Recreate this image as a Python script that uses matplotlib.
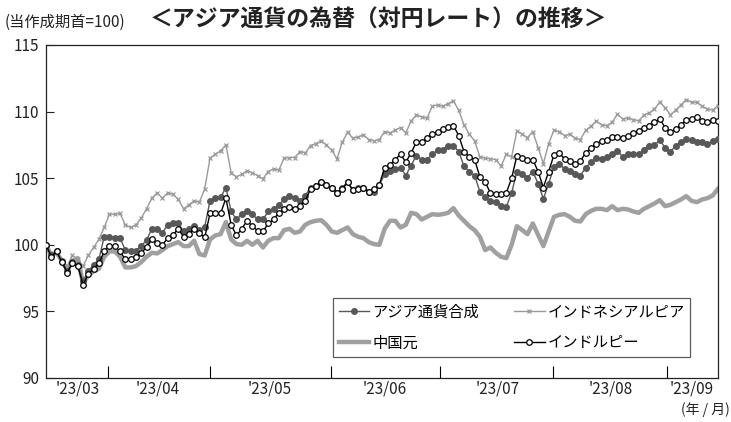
import matplotlib
matplotlib.use("Agg")
from matplotlib import pyplot as plt

plt.rcParams["font.family"] = ["Noto Sans CJK JP", "DejaVu Sans"]

# trading-day index, values are indexed to 100 at the start
composite = [100.0, 99.2, 99.5, 98.8, 98.0, 98.7, 98.5, 97.3, 98.0, 98.5,
             98.9, 100.6, 100.6, 100.5, 100.5, 99.6, 99.55, 99.55, 99.9, 100.35,
             101.2, 101.2, 100.9, 101.5, 101.65, 101.6, 101.0, 101.2, 101.4, 101.1,
             101.35, 103.3, 103.5, 103.55, 104.3, 102.5, 101.9, 102.3, 102.55, 102.3,
             101.9, 101.9, 102.5, 102.7, 103.0, 103.4, 103.7, 103.5, 103.3, 103.7,
             104.3, 104.4, 104.75, 104.5, 104.3, 103.9, 104.3, 104.7, 104.1, 104.3,
             104.3, 104.0, 104.0, 104.5, 105.3, 105.55, 105.7, 105.8, 105.2, 105.95,
             106.7, 106.4, 106.4, 106.8, 107.1, 107.15, 107.4, 107.45, 107.0, 105.9,
             105.5, 105.2, 104.0, 103.55, 103.3, 103.2, 102.9, 102.85, 103.9, 105.5,
             105.3, 105.05, 105.5, 104.6, 103.45, 104.6, 105.85, 106.05, 105.7, 105.55,
             105.3, 105.2, 105.8, 106.2, 106.5, 106.45, 106.6, 106.8, 107.05, 106.6,
             106.8, 106.85, 106.8, 107.1, 107.4, 107.5, 107.85, 107.3, 107.0, 107.4,
             107.75, 107.95, 107.85, 107.75, 107.7, 107.55, 107.8, 107.95]

idr = [100.0, 99.4, 99.5, 98.8, 98.4, 99.2, 98.9, 98.4, 99.2, 99.8,
       100.4, 101.3, 102.3, 102.3, 102.35, 101.5, 101.3, 101.5, 102.0, 102.7,
       103.5, 103.9, 103.5, 103.9, 103.8, 103.4, 102.7, 103.0, 103.3, 103.2,
       104.2, 106.5, 106.8, 107.05, 107.5, 105.4, 105.1, 105.3, 105.55, 105.4,
       105.2, 104.95, 105.5, 105.7, 105.6, 106.5, 106.55, 106.55, 107.0, 106.9,
       107.45, 107.6, 107.8, 107.5, 107.1, 106.45, 107.7, 108.45, 108.0, 108.1,
       108.25, 107.9, 107.8, 107.9, 108.5, 108.4, 108.6, 108.8, 108.4, 109.3,
       109.75, 109.6, 109.5, 110.4, 110.5, 110.4, 110.6, 110.8, 110.1, 109.0,
       108.3, 107.8, 106.6, 106.5, 106.45, 106.4, 105.9, 106.8, 106.6, 108.55,
       108.3, 108.05, 108.5, 107.3, 106.1, 107.6, 108.6, 108.5, 108.2, 108.3,
       108.0, 107.9, 108.6, 108.9, 109.3, 109.0, 108.95, 109.2, 109.8, 109.45,
       109.5, 109.4, 109.3, 109.75, 109.9, 110.2, 110.7, 110.3, 109.75, 110.1,
       110.5, 110.9, 110.7, 110.7, 110.4, 110.2, 110.1, 110.45]

cny = [100.0, 99.2, 99.4, 98.8, 98.1, 98.8, 99.0, 97.1, 97.7, 98.0,
       98.2, 99.1, 99.5, 99.5, 99.1, 98.3, 98.3, 98.4, 98.7, 99.1,
       99.4, 99.35, 99.6, 99.9, 100.05, 100.2, 99.9, 99.9, 100.3, 99.3,
       99.2, 100.4, 100.7, 100.8, 101.7, 100.4, 100.05, 100.0, 100.3, 100.0,
       100.3, 99.8, 100.3, 100.5, 100.5, 101.1, 101.2, 100.9, 101.0, 101.5,
       101.7, 101.8, 101.85, 101.5, 101.0, 100.9, 101.1, 101.3, 100.8, 100.6,
       100.5, 100.2, 100.05, 100.0, 101.2, 101.8, 101.8, 101.3, 101.5, 102.4,
       102.3, 101.9, 102.1, 102.3, 102.25, 102.3, 102.4, 102.75, 102.2, 101.8,
       101.4, 101.1, 100.6, 99.6, 99.8, 99.4, 99.1, 99.0, 100.0, 101.4,
       101.1, 100.8, 101.6, 100.75, 99.9, 101.0, 102.1, 102.25, 102.3, 102.1,
       101.8, 101.75, 102.3, 102.55, 102.7, 102.7, 102.6, 102.9, 102.6, 102.7,
       102.65, 102.5, 102.4, 102.7, 102.9, 103.1, 103.35, 102.9, 103.0, 103.2,
       103.4, 103.65, 103.3, 103.2, 103.4, 103.5, 103.7, 104.2]

inr = [100.0, 99.1, 99.5, 98.7, 97.9, 98.6, 98.4, 97.0, 97.8, 98.2,
       98.6, 99.5, 99.9, 99.9, 99.5, 98.9, 98.9, 99.1, 99.4, 99.8,
       100.4, 100.1, 100.0, 100.5, 100.75, 101.2, 100.6, 100.8, 101.2, 100.85,
       100.55, 102.35, 102.35, 102.35, 103.5, 101.5, 100.7, 101.2, 101.8, 101.4,
       101.05, 101.0, 101.6, 101.9, 102.4, 102.7, 102.8, 102.7, 102.9, 103.3,
       104.2, 104.4, 104.7, 104.5, 104.3, 103.9, 104.2, 104.7, 104.1, 104.2,
       104.3, 104.0, 104.2, 104.5, 105.8, 106.0, 106.4, 106.8, 106.2, 106.9,
       107.7, 107.7, 108.0, 108.3, 108.5, 108.7, 108.85, 108.95, 108.2, 107.0,
       106.6, 106.4, 105.1, 104.7, 103.9, 103.8, 103.8, 103.9, 105.0, 106.7,
       106.5, 106.35, 106.4, 105.5, 104.3, 105.5, 106.75, 106.9, 106.45, 106.3,
       106.1, 106.3, 106.9, 107.25, 107.6, 107.8, 107.9, 108.1, 108.1, 108.0,
       108.2, 108.4, 108.55, 108.8, 108.95, 109.2, 109.45, 108.8, 108.45, 108.7,
       109.0, 109.35, 109.45, 109.6, 109.3, 109.2, 109.4, 109.3]

month_bounds = [11.7, 31.0, 53.9, 74.5, 95.8, 117.4]
month_centers = [5.9, 21.2, 42.3, 64.1, 85.3, 106.8, 122.1]
month_labels = ["'23/03", "'23/04", "'23/05", "'23/06", "'23/07", "'23/08", "'23/09"]

x = list(range(len(inr)))

fig = plt.figure(figsize=(7.31, 4.22), dpi=100)
ax = fig.add_axes([0.0629, 0.1043, 0.9193, 0.7891])

ax.plot(x, cny, color="#a0a0a0", lw=3.2, label="中国元", zorder=2)
ax.plot(x, idr, color="#9a9a9a", lw=1.0, marker="x", ms=3.5, mew=0.9, label="インドネシアルピア", zorder=3)
ax.plot(x, composite, color="#585858", lw=1.0, marker="o", ms=4.0, mec="#585858", mfc="#585858",
        label="アジア通貨合成", zorder=4)
ax.plot(x, inr, color="black", lw=1.0, marker="o", ms=4.0, mec="black", mfc="white", mew=0.9,
        label="インドルピー", zorder=5)

ax.set_xlim(0, len(inr) - 1)
ax.set_ylim(90, 115)
ax.set_yticks([90, 95, 100, 105, 110, 115])
ax.set_xticks(month_bounds)
ax.set_xticklabels([])
ax.set_xticks(month_centers, minor=True)
ax.set_xticklabels(month_labels, minor=True)
ax.tick_params(axis="x", which="major", direction="in", length=9, width=0.8)
ax.tick_params(axis="x", which="minor", length=0, labelsize=11, pad=2, colors="#222222")
ax.tick_params(axis="y", direction="in", length=6, width=0.8, labelsize=11, pad=5, colors="#222222")
for s in ax.spines.values():
    s.set_linewidth(0.9)
    s.set_color("#222222")

handles, labels = ax.get_legend_handles_labels()
order = [2, 0, 1, 3]
leg = ax.legend([handles[i] for i in order], [labels[i] for i in order], ncol=2,
                loc="upper left", bbox_to_anchor=(0.416, 0.262), fontsize=11,
                frameon=True, fancybox=False, edgecolor="#333333", handlelength=2.0,
                handletextpad=0.2, columnspacing=2.3, labelspacing=0.9, borderpad=0.35)
leg.get_frame().set_linewidth(0.9)

fig.text(0.006, 0.936, "(当作成期首=100)", fontsize=11, color="#222222", va="baseline")
fig.text(0.205, 0.936, "＜アジア通貨の為替（対円レート）の推移＞", fontsize=16.5, color="#222222",
         va="baseline", fontweight="bold")
fig.text(0.998, 0.02, "(年 / 月)", fontsize=10, color="#222222", ha="right", va="baseline")

fig.savefig("out.png", dpi=100)
